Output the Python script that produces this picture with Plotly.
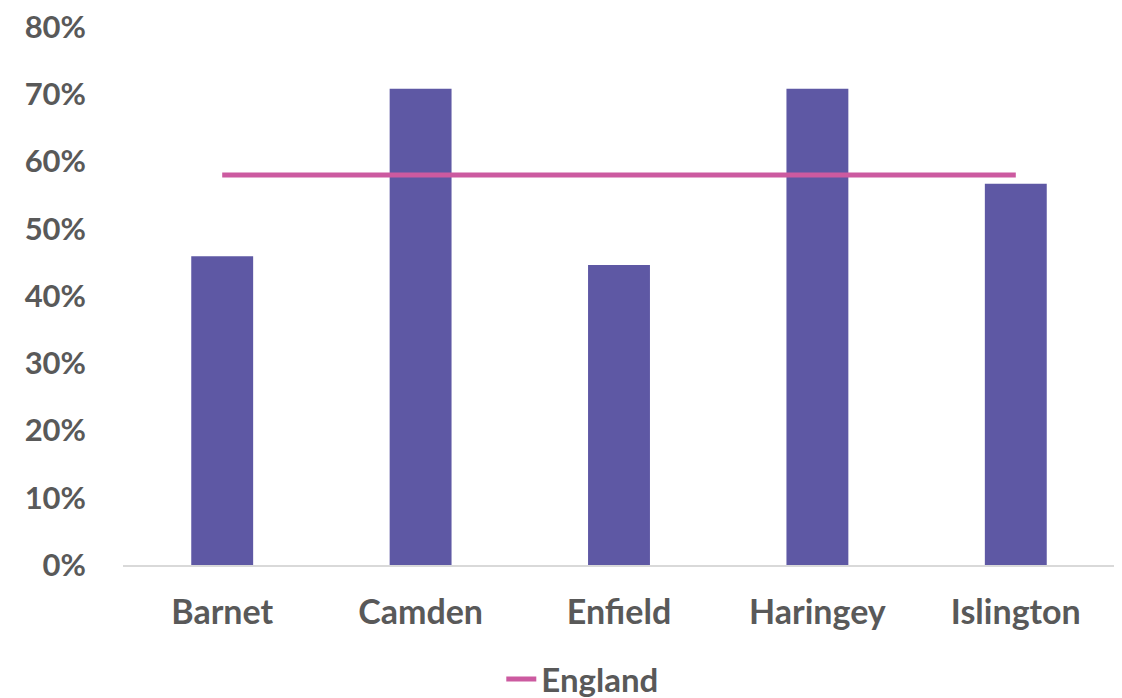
import plotly.graph_objects as go

boroughs = ["Barnet", "Camden", "Enfield", "Haringey", "Islington"]
borough_values = [0.459, 0.708, 0.446, 0.708, 0.567]
england_value = [0.58, 0.58, 0.58, 0.58, 0.58]
y_ticks = [0, 0.1, 0.2, 0.3, 0.4, 0.5, 0.6, 0.7, 0.8]

font_family = "Lato"
text_color = "#595959"

fig = go.Figure()
fig.add_trace(go.Bar(
    x=boroughs, y=borough_values, name="Boroughs",
    marker=dict(color="#5E58A4", line=dict(width=0)),
    showlegend=False,
))
fig.add_trace(go.Scatter(
    x=boroughs, y=england_value, name="England", mode="lines",
    line=dict(color="#CC5AA0", width=5),
))

fig.update_layout(
    width=1114, height=690,
    margin=dict(l=115, r=7, t=19, b=133, autoexpand=False),
    plot_bgcolor="white", paper_bgcolor="white",
    bargap=0.688,
    font=dict(family=font_family, size=31, color=text_color, weight="bold"),
    xaxis=dict(
        type="category", range=[-0.5, 4.5], automargin=False,
        showline=True, linecolor="#D9D9D9", linewidth=2,
        ticks="", showgrid=False, ticklabelstandoff=16,
        tickfont=dict(family=font_family, size=34, color=text_color, weight="bold"),
    ),
    yaxis=dict(
        range=[0, 0.8], tickvals=y_ticks, tickformat=".0%", automargin=False,
        showgrid=False, zeroline=False, showline=False, ticks="",
        ticklabelstandoff=36, ticklabeloverflow="allow",
        tickfont=dict(family=font_family, size=31, color=text_color, weight="bold"),
    ),
    legend=dict(
        orientation="h", x=0.463, xanchor="center", y=-0.212, yanchor="middle",
        font=dict(family=font_family, size=33, color=text_color, weight="bold"),
    ),
)

fig.write_html("out.html")
